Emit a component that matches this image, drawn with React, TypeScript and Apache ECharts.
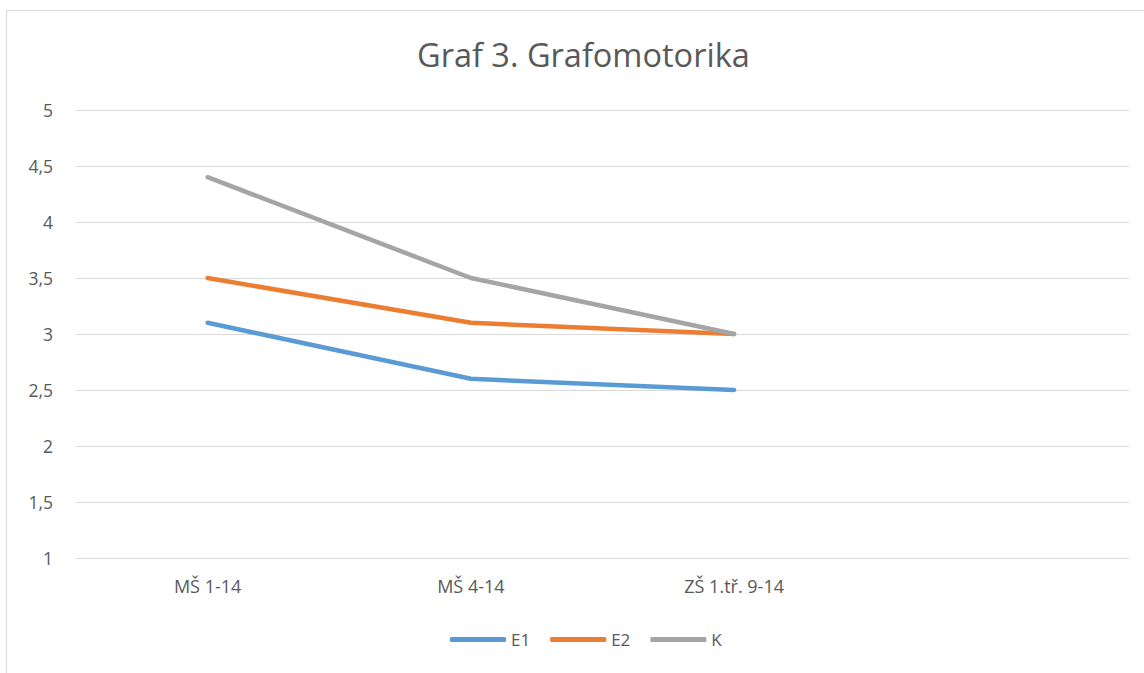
import React, { useEffect, useRef } from "react";
import * as echarts from "echarts";

const categories = ["MŠ 1-14", "MŠ 4-14", "ZŠ 1.tř. 9-14", ""];
const e1 = [3.1, 2.6, 2.5, null];
const e2 = [3.5, 3.1, 3.0, null];
const k = [4.4, 3.5, 3.0, null];
const seriesNames = ["E1", "E2", "K"];
const colors = ["#5B9BD5", "#ED7D31", "#A5A5A5"];

const FONT = "'Open Sans', sans-serif";

export default function App() {
  const ref = useRef<HTMLDivElement>(null);
  useEffect(() => {
    if (!ref.current) return;
    const chart = echarts.init(ref.current, undefined, { renderer: "svg" });
    const data = [e1, e2, k];
    chart.setOption({
      animation: false,
      backgroundColor: "#ffffff",
      title: {
        text: "Graf 3. Grafomotorika",
        left: 412,
        top: 33,
        textStyle: { fontFamily: FONT, fontSize: 32.5, fontWeight: "normal", color: "#595959" },
      },
      graphic: [
        {
          type: "rect",
          shape: { x: 6.5, y: 10.5, width: 1200, height: 700 },
          style: { fill: "none", stroke: "#D9D9D9", lineWidth: 1 },
          silent: true,
        },
      ],
      legend: {
        bottom: 20,
        left: 445,
        itemWidth: 56,
        itemHeight: 5,
        itemGap: 20,
        icon: "roundRect",
        data: seriesNames,
        textStyle: { fontFamily: FONT, fontSize: 17, color: "#595959" },
      },
      grid: { left: 76, right: 15, top: 110, bottom: 115 },
      xAxis: {
        type: "category",
        data: categories,
        boundaryGap: true,
        axisLine: { show: false },
        axisTick: { show: false },
        axisLabel: { fontFamily: FONT, fontSize: 18, color: "#595959", margin: 19 },
      },
      yAxis: {
        type: "value",
        min: 1,
        max: 5,
        interval: 0.5,
        axisLine: { show: false },
        axisTick: { show: false },
        splitLine: { lineStyle: { color: "#D9D9D9", width: 1 } },
        axisLabel: {
          fontFamily: FONT,
          fontSize: 17.5,
          color: "#595959",
          margin: 23,
          formatter: (v: number) => String(v).replace(".", ","),
        },
      },
      series: seriesNames.map((n, i) => ({
        name: n,
        type: "line",
        data: data[i],
        symbol: "none",
        connectNulls: false,
        itemStyle: { color: colors[i] },
        lineStyle: { color: colors[i], width: 4.5, cap: "round", join: "round" },
      })),
    });
    return () => chart.dispose();
  }, []);
  return <div ref={ref} style={{ position: "fixed", left: 0, top: 0, width: 1144, height: 673 }} />;
}
